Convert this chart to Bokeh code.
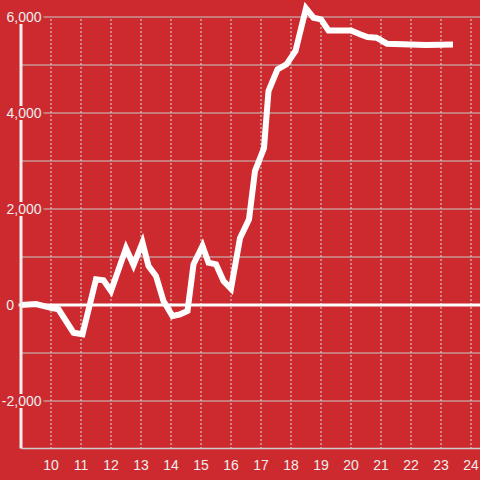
from bokeh.plotting import figure
from bokeh.models import Range1d, FixedTicker, GlobalInlineStyleSheet
from bokeh.core.properties import value
from bokeh.embed import file_html
from bokeh.resources import INLINE

# ---- data ----
hours = [9.0, 9.5, 10.0, 10.25, 10.75, 11.05, 11.5, 11.75, 12.0, 12.5, 12.75,
         13.05, 13.25, 13.5, 13.75, 14.05, 14.3, 14.55, 14.75, 15.05, 15.25,
         15.5, 15.75, 16.0, 16.3, 16.6, 16.8, 17.1, 17.25, 17.55, 17.85, 18.15,
         18.5, 18.75, 19.0, 19.25, 20.0, 20.3, 20.55, 20.85, 21.2, 22.5, 23.4]
values = [0, 20, -60, -90, -577, -610, 535, 515, 290, 1180, 833,
          1298, 812, 604, 83, -229, -194, -125, 848, 1229, 881,
          848, 500, 340, 1390, 1785, 2790, 3270, 4458, 4910, 5014, 5291,
          6180, 5985, 5951, 5720, 5720, 5640, 5583, 5569, 5444, 5417, 5425]

x_ticks = [10, 11, 12, 13, 14, 15, 16, 17, 18, 19, 20, 21, 22, 23, 24]
y_grid = [-2000, -1000, 0, 1000, 2000, 3000, 4000, 5000, 6000]
y_label_values = [-2000, 0, 2000, 4000, 6000]
y_labels = ["-2,000", "0", "2,000", "4,000", "6,000"]

# ---- styling / layout ----
RED = "#cd2a2f"
TXT = "#eeeeee"
FONT = "Liberation Sans"
X_AXIS_START = 9.0
Y_AXIS_MIN = -3000
PX_PER_X = 30.0
PX_PER_Y = 48.0 / 1000.0
W, H = 480, 480
FRAME_H = 448

x0 = 10 - 50.5 / PX_PER_X
x1 = x0 + W / PX_PER_X
y0 = Y_AXIS_MIN + 0.5 / PX_PER_Y
y1 = y0 + FRAME_H / PX_PER_Y

p = figure(width=W, height=H, output_backend="svg", toolbar_location=None,
           x_range=Range1d(x0, x1), y_range=Range1d(y0, y1),
           min_border_left=0, min_border_right=0, min_border_top=0,
           min_border_bottom=H - FRAME_H,
           background_fill_color=RED, border_fill_color=RED,
           outline_line_color=None, y_axis_location=None)
p.stylesheets = [GlobalInlineStyleSheet(css="body{margin:0;padding:0;overflow:hidden;background:%s}" % RED)]
p.grid.visible = False

ax = p.xaxis[0]
ax.ticker = FixedTicker(ticks=x_ticks)
ax.bounds = (X_AXIS_START, x1)
ax.axis_line_color = "#cccccc"
ax.axis_line_width = 1.5
ax.major_tick_line_color = None
ax.minor_tick_line_color = None
ax.major_label_standoff = 5
ax.major_label_text_color = TXT
ax.major_label_text_font = FONT
ax.major_label_text_font_size = "14px"

y_top = max(y_grid)
n = len(x_ticks)
m = len(y_grid)

# vertical dotted grid
p.segment(x0=x_ticks, y0=[Y_AXIS_MIN] * n, x1=x_ticks, y1=[y_top] * n,
          line_color="#dddddd", line_width=1, line_dash="2 2")
# horizontal grid
p.segment(x0=[X_AXIS_START] * m, y0=y_grid, x1=[x1] * m, y1=y_grid,
          line_color="#c8c8c8", line_width=1)
# zero line
p.segment(x0=[X_AXIS_START - 0.08], y0=[0], x1=[x1], y1=[0],
          line_color="#ffffff", line_width=3)

# data line
p.line(hours, values, line_color="#ffffff", line_width=6, line_join="miter")

# y axis line
p.segment(x0=[X_AXIS_START], y0=[Y_AXIS_MIN], x1=[X_AXIS_START], y1=[y_top],
          line_color="#eeeeee", line_width=3)

# y labels with background
offsets = [22.5 if t != "0" else -5 for t in y_labels]
p.text(x=[X_AXIS_START] * len(y_labels), y=y_label_values, text=y_labels,
       x_offset=offsets, text_align="right", text_baseline="middle",
       text_font=value(FONT), text_font_size="14px", text_color=TXT,
       background_fill_color=RED, padding=2)

open("out.html", "w").write(file_html(p, INLINE))
